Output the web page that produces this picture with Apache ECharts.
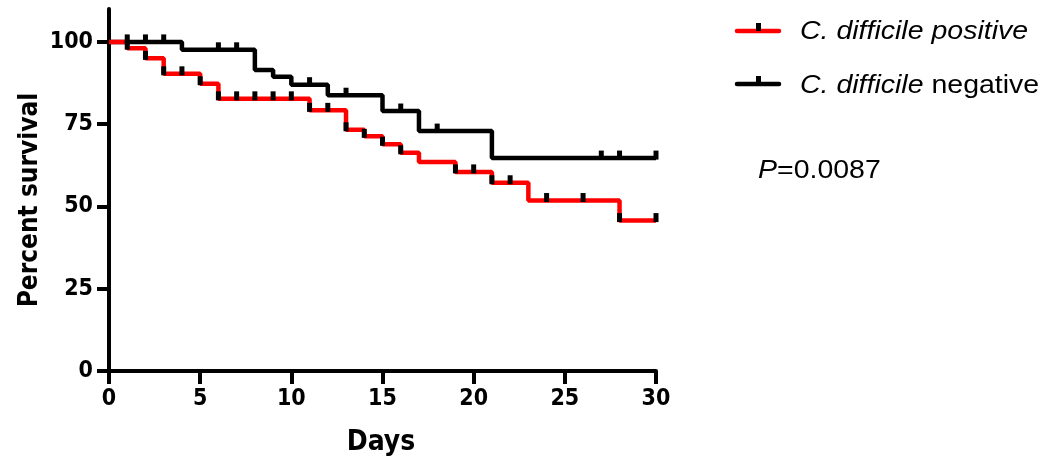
<!DOCTYPE html>
<html><head><meta charset="utf-8">
<script src="https://cdn.jsdelivr.net/npm/echarts@6/dist/echarts.min.js"></script>
<style>html,body{margin:0;padding:0;background:#fff}#c{width:1053px;height:463px}</style>
</head><body><div id="c"></div>
<script>
// Kaplan-Meier steps (day of drop, survival % after drop)
const posDays = [0, 1, 2, 3, 5, 6, 11, 13, 14, 15, 16, 17, 19, 21, 23, 28, 30];
const posSurv = [100, 98.1, 95.0, 90.3, 87.3, 82.7, 79.2, 73.3, 71.3, 68.9, 66.3, 63.5, 60.5, 57.2, 51.8, 45.7, 45.7];
const negDays = [0, 4, 8, 9, 10, 12, 15, 17, 21, 30];
const negSurv = [100, 97.6, 91.5, 89.4, 87.0, 83.8, 79.0, 72.9, 64.7, 64.7];
// censored observations (days)
const posCensor = [1, 2, 3, 4, 5, 6, 7, 8, 9, 10, 11, 12, 13, 14, 15, 16, 19, 20, 21, 22, 24, 26, 28, 30];
const negCensor = [1, 2, 3, 6, 7, 11, 13, 16, 18, 27, 28, 30];
const yTicks = [0, 25, 50, 75, 100];
const seriesNames = ['C. difficile positive', 'C. difficile negative'];
const pValue = '0.0087';

function levelAt(days, surv, d) {
  let v = surv[0];
  for (let i = 0; i < days.length; i++) if (days[i] <= d) v = surv[i];
  return v;
}
const zip = (a, b) => a.map((x, i) => [x, b[i]]);

const FONT = 'Liberation Sans, Arial, sans-serif';
const NARROW = '"Liberation Sans Narrow", "Arial Narrow", "DejaVu Sans Condensed", sans-serif';
const chart = echarts.init(document.getElementById('c'), null, {renderer: 'canvas'});
const option = {
  animation: false,
  backgroundColor: '#fff',
  grid: {left: 109, right: 397, top: 9, bottom: 92, outerBoundsMode: 'none'},
  xAxis: {
    type: 'value', min: 0, max: 30, interval: 5,
    axisLine: {show: true, lineStyle: {color: '#000', width: 4}},
    axisTick: {show: true, length: 13, lineStyle: {color: '#000', width: 4}},
    axisLabel: {color: '#000', fontFamily: NARROW, fontWeight: 'bold', fontSize: 23, margin: 17},
    splitLine: {show: false}
  },
  yAxis: {
    type: 'value', min: 0, max: 110,
    axisLine: {show: true, lineStyle: {color: '#000', width: 4}},
    axisTick: {show: true, length: 12, customValues: yTicks, lineStyle: {color: '#000', width: 4}},
    axisLabel: {customValues: yTicks, color: '#000', fontFamily: NARROW, fontWeight: 'bold', fontSize: 23, margin: 16},
    splitLine: {show: false}
  },
  series: [
    {name: seriesNames[1], type: 'line', step: 'end', showSymbol: false, z: 2,
     data: zip(negDays, negSurv), lineStyle: {color: '#000', width: 4.5}},
    {name: seriesNames[0], type: 'line', step: 'end', showSymbol: false, z: 3,
     data: zip(posDays, posSurv), lineStyle: {color: '#ff0000', width: 4.5}},
    {type: 'scatter', z: 4, symbol: 'rect', symbolSize: [5, 9], symbolOffset: [0, -3],
     itemStyle: {color: '#000', opacity: 1},
     data: negCensor.map(d => [d, levelAt(negDays, negSurv, d)])},
    {type: 'scatter', z: 5, symbol: 'rect', symbolSize: [5, 9], symbolOffset: [0, -3],
     itemStyle: {color: '#000', opacity: 1},
     data: posCensor.map(d => [d, levelAt(posDays, posSurv, d)])}
  ],
  graphic: [
    {type: 'text', x: 30, y: 200, rotation: Math.PI / 2,
     style: {text: 'Percent survival', font: 'bold 26px ' + NARROW, fill: '#000', align: 'center', verticalAlign: 'middle'}},
    {type: 'text', x: 381, y: 443,
     style: {text: 'Days', font: 'bold 28px ' + NARROW, fill: '#000', align: 'center', verticalAlign: 'middle'}},
    {type: 'line', shape: {x1: 737, y1: 31, x2: 779, y2: 31}, style: {stroke: '#ff0000', lineWidth: 4.5, lineCap: 'round'}},
    {type: 'rect', shape: {x: 756, y: 23, width: 5, height: 8}, style: {fill: '#000'}},
    {type: 'line', shape: {x1: 737, y1: 84, x2: 779, y2: 84}, style: {stroke: '#000', lineWidth: 4.5, lineCap: 'round'}},
    {type: 'rect', shape: {x: 756, y: 76, width: 5, height: 8}, style: {fill: '#000'}},
    {type: 'text', x: 800, y: 32, scaleX: 1.14,
     style: {text: seriesNames[0], font: 'italic 25px ' + FONT, fill: '#000', align: 'left', verticalAlign: 'middle'}},
    {type: 'text', x: 800, y: 86, scaleX: 1.14,
     style: {text: '{i|C. difficile} negative', font: '25px ' + FONT, fill: '#000', align: 'left', verticalAlign: 'middle',
       rich: {i: {fontStyle: 'italic', fontSize: 25, fontFamily: FONT, fill: '#000'}}}},
    {type: 'text', x: 758, y: 171, scaleX: 1.14,
     style: {text: '{i|P}=' + pValue, font: '25px ' + FONT, fill: '#000', align: 'left', verticalAlign: 'middle',
       rich: {i: {fontStyle: 'italic', fontSize: 25, fontFamily: FONT, fill: '#000'}}}}
  ]
};
chart.setOption(option);
</script>
</body></html>
